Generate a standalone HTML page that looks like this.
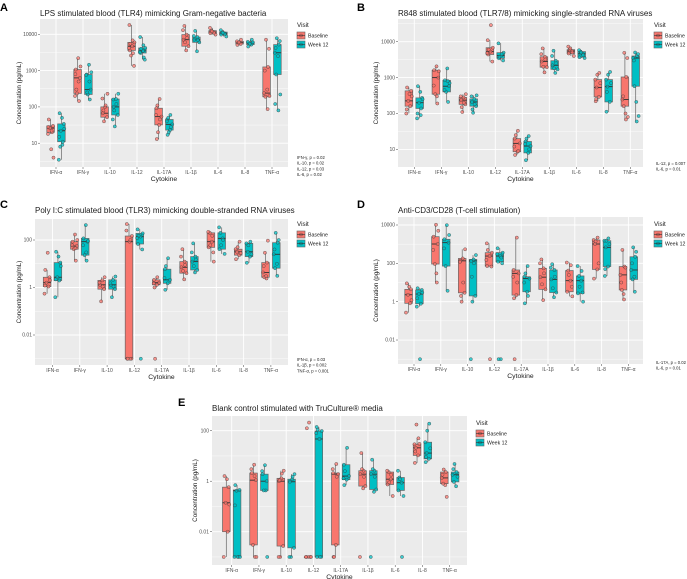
<!DOCTYPE html>
<html><head><meta charset="utf-8">
<style>
body{margin:0;background:#fff}
svg{display:block;font-family:"Liberation Sans",sans-serif}
</style></head>
<body>
<svg id="fig" width="687" height="579" viewBox="0 0 687 579" xmlns="http://www.w3.org/2000/svg"></svg>
<script>
const cats = ["IFN-α","IFN-γ","IL-10","IL-12","IL-17A","IL-1β","IL-6","IL-8","TNF-α"];
// box stats: [lower whisker, q1, median, q3, upper whisker]
const A_base = [[18,20,26,30,45],[145,235,630,1070,2200],[40,52,67,100,230],[1350,3600,4700,6000,18000],[13,32,54,92,165],[3600,4700,7100,9800,17000],[9800,10700,11500,12600,15000],[5100,5400,5900,6400,7100],[87,190,240,1260,7100]];
const A_week = [[3.5,11,22,34,67],[160,220,300,780,1450],[29,60,100,165,230],[2000,3050,3500,4200,8400],[17,23,33,45,60],[3400,6000,7100,8400,12400],[8700,9800,10700,11500,13000],[4600,5200,5700,6200,7100],[80,780,3100,5200,7800]];
const A_baseExtra = [[6.8,4,28,22],[1300,800,500,300,200],[170,110,80],[6800,5500,4200,3000,2600],[110,60,45,20],[13000,8000,6000],[11000,12000],[6000],[4000,1000,300,200]];
const A_weekExtra = [[50,25,15,9,8],[900,750,500,250],[160,120,80,45],[5000,4000,3200,2300],[50,40,28,20],[9000,7000],[10000,11000],[5500,6000],[6500,4200,2500,220,120]];

const B_base = [[100,160,225,427,530],[190,345,1000,1600,2060],[110,180,235,280,345],[2800,4400,5300,6800,11000],[7,8.6,14.7,20,33],[1400,1950,2800,3800,6500],[4000,4700,5500,6000,7300],[220,290,530,880,1350],[68,160,245,1040,4900]];
const B_week = [[73,138,200,272,575],[210,400,575,840,1800],[105,160,210,255,320],[3000,3450,4100,4950,9000],[5,8,12.4,16.6,23.5],[1350,1700,2200,2950,5600],[3500,3700,4600,5300,5800],[112,210,560,880,1440],[60,575,3500,4000,5000]];
const B_baseExtra = [[350,300,130],[1500,600,300],[300,200,150],[29000,6000,4800],[25,12,9],[4500,3200,2000],[5000,6500],[1200,700,250],[3500,300,100,80]];
const B_weekExtra = [[400,250,100,90],[700,450,800],[300,180,130],[4500,3800],[20,14,10],[4000,2500,1800],[4200,5000],[1200,700,400],[4500,3000,210,85]];

const C_base = [[0.55,1.1,1.6,2.7,5.5],[13.5,41,56,85,170],[0.26,0.85,1.3,2,2.7],[0.001,0.001,85,147,470],[1.0,1.3,1.6,2.1,2.7],[2.2,4,7.1,12.3,41],[12.3,49,85,200,220],[15.5,23,32,41,85],[2.4,2.7,4.3,11.2,29]];
const C_week = [[0.39,1.96,2.7,11.2,32],[13.5,23,85,117,425],[0.39,0.85,1.3,2.1,2.9],[40,68,138,190,280],[0.8,1.5,2.1,5.9,17],[4.3,5.5,12.3,20,72],[26,41,117,200,340],[11,20,32,72,85],[3.1,6.5,25,77,200]];
const C_baseExtra = [[29,2,1.2],[100,60,45],[1.6,1.1],[0.001,0.001,250,100],[0.001,1.5],[20,9,5],[150,60,30],[50,28],[94,8,3]];
const C_weekExtra = [[20,8,2.2],[90,60,30],[1.5,1.1],[0.001,150,120],[8,2.5],[30,15,8],[100,60],[60,25],[100,40,10]];

const D_base = [[0.27,0.82,2.3,4.4,9],[10,92,1020,2460,10300],[1,2.9,135,180,540],[68,72,240,360,1100],[1.5,2.2,30,45,2200],[1.2,4.4,19,55,160],[1.9,3.3,12.5,42,110],[16,48,1020,1650,2200],[1.3,4.1,25,68,500]];
const D_week = [[0.55,0.78,2.5,4.1,5],[3.7,72,1200,1800,9800],[1,2,135,160,270],[100,122,240,360,610],[0.82,3.3,16,20,72],[1.7,3,14.5,45,90],[1,2.7,12.5,22,72],[22,68,680,1520,2000],[3.3,14.5,45,220,680]];
const D_baseExtra = [[6,1.2],[5000,500,30],[120,10,2],[0.001,500,150],[0.001,20,10],[100,30,8],[80,25,6],[1400,100],[60,10,2.5]];
const D_weekExtra = [[0.001,3,1.5],[3000,600],[0.001,100,20],[0.001,0.001,300,200],[30,10,2],[60,20,5],[40,6,3],[1500,1000,50],[400,100,20]];

const E_base = [[0.001,0.01,0.14,0.58,1.6],[0.001,0.003,1.1,2.1,4.5],[0.001,0.0027,1,1.3,2.6],[0.001,0.001,0.001,0.001,0.001],[0.001,0.003,1.9,2.1,4.8],[0.52,0.64,1.9,2.6,13],[0.26,0.74,1.2,2.3,2.6],[5.3,10.5,21,29,50],[0.7,0.8,1.35,2.3,2.9]];
const E_week = [[0.001,0.001,0.42,0.45,0.7],[0.43,0.43,1,1.9,4.3],[0.001,0.0023,0.95,1.2,1.9],[0.001,0.001,47,97,140],[0.7,1.15,1.6,4.5,21],[0.38,0.47,1.9,2.6,7.1],[0.26,0.43,0.87,1.4,2.6],[5.7,7.7,13,35,190],[0.63,0.94,1.8,2.3,4.8]];
const E_baseExtra = [[1.2,0.12],[0.001,3,1.6],[0.001,2,1.1],[210,125],[0.001,3,1.5],[0.001,1.5,3],[1.8,0.9],[175,30,15],[0.24,1.8]];
const E_weekExtra = [[0.001,0.001,0.11],[0.001,2.5],[0.001,1.5],[0.001,110,80],[2.5,1.3],[0.001,1.5,3],[0.001,1.2],[100,20,9],[1.5,3]];

const svg = document.getElementById('fig');
const NS = 'http://www.w3.org/2000/svg';
function mk(tag, attrs, parent, text){
  const e = document.createElementNS(NS, tag);
  for (const k in attrs) e.setAttribute(k, attrs[k]);
  if (text !== undefined) e.textContent = text;
  (parent || svg).appendChild(e);
  return e;
}
const BASE_COL = '#F8766D', WEEK_COL = '#00BFC4';
const jit = [-2.6,1.4,-0.6,2.4,-1.8,0.6,2.9,-2.2,1.0,-1.2];

function panel(p){
  const g = mk('g', {});
  
  
  const yS = v => p.refY - (Math.log10(v) - Math.log10(p.refV)) * p.dec;
  const xS = i => p.cx0 + i * p.step;
  // letter & title
  const L = mk('text', {x:p.lx, y:p.ly, 'font-size':11, 'font-weight':'bold', fill:'#000'}, g, p.letter);
  
  
  const T = mk('text', {x:p.x0, y:p.ty, 'font-size':8, fill:'#1a1a1a'}, g, p.title);
  
  
  // background
  const bg = mk('rect', {x:p.x0, y:p.y0, width:p.x1-p.x0, height:p.y1-p.y0, fill:'#EBEBEB'}, g);
  
  
  // minor grid
  for (let i = 0; i < p.ticks.length + 1; i++){
    const lv = Math.log10(p.ticks[0]) + (i - 0.5) * (Math.log10(p.ticks[1]) - Math.log10(p.ticks[0]));
    const y = yS(Math.pow(10, lv));
    if (y > p.y0 && y < p.y1) mk('line', {x1:p.x0, x2:p.x1, y1:y, y2:y, stroke:'#fff', 'stroke-width':0.4}, g);
  }
  // major grid + tick labels
  p.ticks.forEach((t, i) => {
    const y = yS(t);
    mk('line', {x1:p.x0, x2:p.x1, y1:y, y2:y, stroke:'#fff', 'stroke-width':0.9}, g);
    mk('line', {x1:p.x0-2, x2:p.x0, y1:y, y2:y, stroke:'#444', 'stroke-width':0.5}, g);
    const tl = mk('text', {x:p.x0-3, y:y+1.7, 'font-size':5, fill:'#4d4d4d', 'text-anchor':'end'}, g, p.tickLabels[i]);
    
    
  });
  cats.forEach((c, i) => {
    const x = xS(i);
    mk('line', {x1:x, x2:x, y1:p.y0, y2:p.y1, stroke:'#fff', 'stroke-width':0.9}, g);
    mk('line', {x1:x, x2:x, y1:p.y1, y2:p.y1+2, stroke:'#444', 'stroke-width':0.5}, g);
    const xl = mk('text', {x:x, y:p.y1+7, 'font-size':5, fill:'#4d4d4d', 'text-anchor':'middle'}, g, c);
    
    
  });
  // boxes
  [[p.base, p.baseX, BASE_COL, -1, 'baseline'], [p.week, p.weekX, WEEK_COL, 1, 'week12']].forEach(([stats, extra, col, side, nm]) => {
    stats.forEach((s, i) => {
      const cx = xS(i) + side * 5.4;
      const w = 7.6;
      const wl = mk('line', {x1:cx, x2:cx, y1:yS(s[0]), y2:yS(s[4]), stroke:'#666', 'stroke-width':0.7}, g);
      
      
      const bx = mk('rect', {x:cx-w/2, y:yS(s[3]), width:w, height:Math.max(0.6, yS(s[1]) - yS(s[3])), fill:col, stroke:'#666', 'stroke-width':0.7}, g);
      
      
      mk('line', {x1:cx-w/2, x2:cx+w/2, y1:yS(s[2]), y2:yS(s[2]), stroke:'#333', 'stroke-width':0.9}, g);
      const pts = s.concat(extra[i]);
      pts.forEach((v, k) => {
        const pt = mk('circle', {cx:cx + jit[(k + i) % jit.length], cy:yS(v), r:1.6, fill:col, 'fill-opacity':0.75, stroke:'#333', 'stroke-width':0.45, 'stroke-opacity':0.8}, g);
        
        
      });
    });
  });
  // axis titles
  const yt = mk('text', {x:0, y:0, 'font-size':6.3, fill:'#1a1a1a', 'text-anchor':'middle', transform:`translate(${p.ytx},${(p.y0+p.y1)/2}) rotate(-90)`}, g, 'Concentration (pg/mL)');
  
  
  const xt = mk('text', {x:(p.x0+p.x1)/2, y:p.y1+14, 'font-size':6.8, fill:'#1a1a1a', 'text-anchor':'middle'}, g, 'Cytokine');
  
  
  // legend
  const lg = mk('g', {}, g);
  
  
  mk('text', {x:p.legX, y:p.legY, 'font-size':6.3, fill:'#1a1a1a'}, lg, 'Visit');
  [['Baseline', BASE_COL], ['Week 12', WEEK_COL]].forEach(([lab, col], k) => {
    const ky = p.legY + 5 + k * 9;
    const kk = mk('rect', {x:p.legX, y:ky, width:8, height:7, fill:col, stroke:'#666', 'stroke-width':0.6}, lg);
    
    
    mk('circle', {cx:p.legX+4, cy:ky+3.5, r:1.5, fill:col, stroke:'#333', 'stroke-width':0.4}, lg);
    mk('line', {x1:p.legX, x2:p.legX+8, y1:ky+3.5, y2:ky+3.5, stroke:'#333', 'stroke-width':0.6}, lg);
    mk('text', {x:p.legX+11, y:ky+5.3, 'font-size':5.2, fill:'#1a1a1a'}, lg, lab);
  });
  // notes
  p.notes.forEach((n, k) => {
    const nt = mk('text', {x:p.noteX, y:p.noteY + k*5.7, 'font-size':4.2, fill:'#1a1a1a'}, g, n);
    
    
  });
}

panel({letter:'A', lx:0, ly:11, title:'LPS stimulated blood (TLR4) mimicking Gram-negative bacteria', ty:16,
  x0:40, x1:288, y0:19, y1:167, refV:10000, refY:34.3, dec:36.3, ticks:[10,100,1000,10000], tickLabels:['10','100','1000','10000'],
  cx0:56, step:27, ytx:21, legX:297, legY:27, base:A_base, week:A_week, baseX:A_baseExtra, weekX:A_weekExtra,
  notes:['IFN-γ, p = 0.02','IL-10, p = 0.02','IL-12, p = 0.03','IL-6, p = 0.02'], noteX:297, noteY:159});
panel({letter:'B', lx:357, ly:11, title:'R848 stimulated blood (TLR7/8) mimicking single-stranded RNA viruses', ty:16,
  x0:398, x1:643, y0:19, y1:167, refV:10000, refY:41.7, dec:35.9, ticks:[10,100,1000,10000], tickLabels:['10','100','1000','10000'],
  cx0:414.3, step:27, ytx:378, legX:654, legY:27, base:B_base, week:B_week, baseX:B_baseExtra, weekX:B_weekExtra,
  notes:['IL-12, p = 0.007','IL-6, p = 0.01'], noteX:656, noteY:165});
panel({letter:'C', lx:0, ly:208, title:'Poly I:C stimulated blood (TLR3) mimicking double-stranded RNA viruses', ty:213,
  x0:35, x1:288, y0:219, y1:365, refV:100, refY:240, dec:23.75, ticks:[0.01,1,100], tickLabels:['0.01','1','100'],
  cx0:52.5, step:27.3, ytx:21, legX:297, legY:226, base:C_base, week:C_week, baseX:C_baseExtra, weekX:C_weekExtra,
  notes:['IFN-α, p = 0.03','IL-1β, p = 0.002','TNF-α, p = 0.001'], noteX:297, noteY:361});
panel({letter:'D', lx:357, ly:208, title:'Anti-CD3/CD28 (T-cell stimulation)', ty:213,
  x0:398, x1:643, y0:217, y1:364, refV:10000, refY:225, dec:19.17, ticks:[0.01,1,100,10000], tickLabels:['0.01','1','100','10000'],
  cx0:414, step:26.8, ytx:378, legX:654, legY:226, base:D_base, week:D_week, baseX:D_baseExtra, weekX:D_weekExtra,
  notes:['IL-17A, p = 0.02','IL-6, p = 0.01'], noteX:656, noteY:364});
panel({letter:'E', lx:178, ly:406, title:'Blank control stimulated with TruCulture® media', ty:411,
  x0:212, x1:467, y0:416, y1:565, refV:100, refY:430.7, dec:25.25, ticks:[0.01,1,100], tickLabels:['0.01','1','100'],
  cx0:231.7, step:27.25, ytx:197, legX:476, legY:425, base:E_base, week:E_week, baseX:E_baseExtra, weekX:E_weekExtra,
  notes:[], noteX:0, noteY:0});
</script>
</body></html>
